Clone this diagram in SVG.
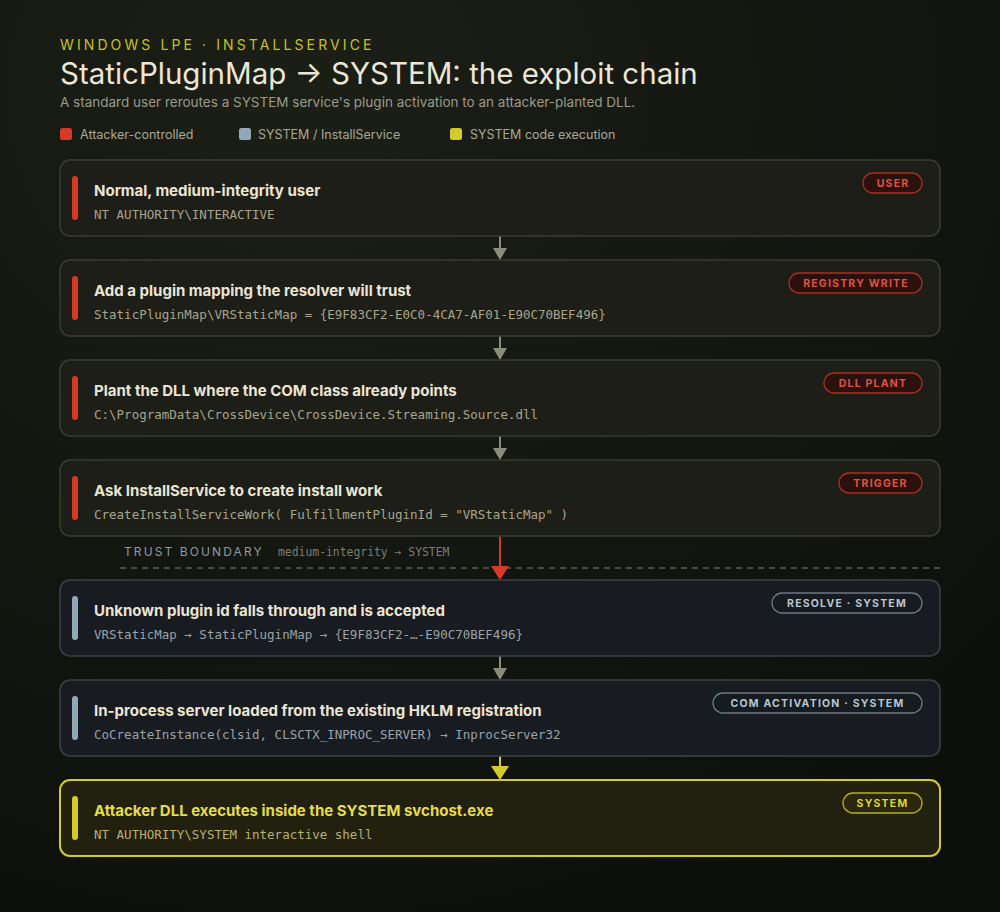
<svg xmlns="http://www.w3.org/2000/svg" width="1000" height="912" viewBox="0 0 1000 912">
<defs>
<radialGradient id="bg" cx="0.3" cy="0.1" r="1">
<stop offset="0" stop-color="#1b1f16"/>
<stop offset="1" stop-color="#0d0f0b"/>
</radialGradient>
<style>
.hdr{font-family:Inter,"Liberation Sans",sans-serif}
.node{stroke-width:1.5}
.u{fill:#1c1e17;stroke:#3a3d31}
.s{fill:#181b1f;stroke:#3b424a}
.x{fill:#22200f;stroke:#d3cb2a;stroke-width:2}
.t{font-family:Inter,"Liberation Sans",sans-serif;font-weight:700;font-size:15px;fill:#ece5d4}
.m{font-family:"DejaVu Sans Mono",monospace;font-size:12.5px;fill:#a9a58c}
.ms{fill:#9aa3aa}
.bdg{font-family:Inter,"Liberation Sans",sans-serif;font-weight:700;font-size:10.5px;letter-spacing:1.2px;text-anchor:middle}
.br{fill:#2b110d;stroke:#a8301f;stroke-width:1.3}
.brt{fill:#e0533c}
.bs{fill:#161b20;stroke:#6c7a85;stroke-width:1.3}
.bst{fill:#b8c6d0}
.by{fill:#2a270c;stroke:#b7ae24;stroke-width:1.3}
.byt{fill:#ddd43a}
.conn{stroke-width:2;fill:none}
</style>
</defs>
<rect width="1000" height="912" fill="url(#bg)"/>

<g id="header">
<text class="hdr" x="60" y="50" font-size="14" letter-spacing="3.1" fill="#c9c122">WINDOWS LPE · INSTALLSERVICE</text>
<text class="hdr" x="60" y="84" font-size="29.5" fill="#ece6d6">StaticPluginMap → SYSTEM: the exploit chain</text>
<text class="hdr" x="60" y="107" font-size="13.5" fill="#9b9a8a">A standard user reroutes a SYSTEM service's plugin activation to an attacker-planted DLL.</text>
</g>

<g id="legend" class="hdr" font-size="12.5" fill="#a8a898">
<rect x="60" y="128" width="12" height="12" rx="2.5" fill="#d63a27"/>
<text x="80" y="139">Attacker-controlled</text>
<rect x="239" y="128" width="12" height="12" rx="2.5" fill="#93a8b6"/>
<text x="258" y="139">SYSTEM / InstallService</text>
<rect x="450" y="128" width="12" height="12" rx="2.5" fill="#d3cb2a"/>
<text x="470" y="139">SYSTEM code execution</text>
</g>

<g id="trust-boundary">
<text x="124" y="556" font-family="Inter,'Liberation Sans',sans-serif" font-size="12" letter-spacing="2.1" fill="#8d9ba5">TRUST BOUNDARY</text>
<text x="278" y="556" font-family="'DejaVu Sans Mono',monospace" font-size="11.4" fill="#7b7c72">medium-integrity → SYSTEM</text>
<line x1="120" y1="568" x2="940" y2="568" stroke="#5a5d55" stroke-width="1.5" stroke-dasharray="6 5"/>
</g>

<g id="connectors">
<line class="conn" x1="500" y1="236" x2="500" y2="248" stroke="#8c8c7a"/>
<path d="M493,248 L507,248 L500,260 Z" fill="#8c8c7a"/>
<line class="conn" x1="500" y1="336" x2="500" y2="348" stroke="#8c8c7a"/>
<path d="M493,348 L507,348 L500,360 Z" fill="#8c8c7a"/>
<line class="conn" x1="500" y1="436" x2="500" y2="448" stroke="#8c8c7a"/>
<path d="M493,448 L507,448 L500,460 Z" fill="#8c8c7a"/>
<line class="conn" x1="500" y1="536" x2="500" y2="566" stroke="#d63a27"/>
<path d="M491,566 L509,566 L500,580 Z" fill="#d63a27"/>
<line class="conn" x1="500" y1="656" x2="500" y2="668" stroke="#8c8c7a"/>
<path d="M493,668 L507,668 L500,680 Z" fill="#8c8c7a"/>
<line class="conn" x1="500" y1="756" x2="500" y2="766" stroke="#d3cb2a"/>
<path d="M491,766 L509,766 L500,780 Z" fill="#d3cb2a"/>
</g>

<g id="n1">
<rect class="node u" x="60" y="160" width="880" height="76" rx="10"/>
<rect x="72" y="176" width="6" height="44" rx="3" fill="#d63a27"/>
<text class="t" x="94" y="196">Normal, medium-integrity user</text>
<text class="m" x="94" y="219">NT AUTHORITY\INTERACTIVE</text>
<rect class="br" x="863" y="173" width="59" height="20" rx="10"/>
<text class="bdg brt" x="893" y="187">USER</text>
</g>

<g id="n2">
<rect class="node u" x="60" y="260" width="880" height="76" rx="10"/>
<rect x="72" y="276" width="6" height="44" rx="3" fill="#d63a27"/>
<text class="t" x="94" y="296">Add a plugin mapping the resolver will trust</text>
<text class="m" x="94" y="319">StaticPluginMap\VRStaticMap = {E9F83CF2-E0C0-4CA7-AF01-E90C70BEF496}</text>
<rect class="br" x="789" y="273" width="133" height="20" rx="10"/>
<text class="bdg brt" x="856" y="287">REGISTRY WRITE</text>
</g>

<g id="n3">
<rect class="node u" x="60" y="360" width="880" height="76" rx="10"/>
<rect x="72" y="376" width="6" height="44" rx="3" fill="#d63a27"/>
<text class="t" x="94" y="396">Plant the DLL where the COM class already points</text>
<text class="m" x="94" y="419">C:\ProgramData\CrossDevice\CrossDevice.Streaming.Source.dll</text>
<rect class="br" x="824" y="373" width="98" height="20" rx="10"/>
<text class="bdg brt" x="873" y="387">DLL PLANT</text>
</g>

<g id="n4">
<rect class="node u" x="60" y="460" width="880" height="76" rx="10"/>
<rect x="72" y="476" width="6" height="44" rx="3" fill="#d63a27"/>
<text class="t" x="94" y="496">Ask InstallService to create install work</text>
<text class="m" x="94" y="519">CreateInstallServiceWork( FulfillmentPluginId = "VRStaticMap" )</text>
<rect class="br" x="839" y="473" width="83" height="20" rx="10"/>
<text class="bdg brt" x="880.5" y="487">TRIGGER</text>
</g>

<g id="n5">
<rect class="node s" x="60" y="580" width="880" height="76" rx="10"/>
<rect x="72" y="596" width="6" height="44" rx="3" fill="#93a8b6"/>
<text class="t" x="94" y="616">Unknown plugin id falls through and is accepted</text>
<text class="m ms" x="94" y="639">VRStaticMap → StaticPluginMap → {E9F83CF2-…-E90C70BEF496}</text>
<rect class="bs" x="772" y="593" width="150" height="20" rx="10"/>
<text class="bdg bst" x="847" y="607">RESOLVE · SYSTEM</text>
</g>

<g id="n6">
<rect class="node s" x="60" y="680" width="880" height="76" rx="10"/>
<rect x="72" y="696" width="6" height="44" rx="3" fill="#93a8b6"/>
<text class="t" x="94" y="716">In-process server loaded from the existing HKLM registration</text>
<text class="m ms" x="94" y="739">CoCreateInstance(clsid, CLSCTX_INPROC_SERVER) → InprocServer32</text>
<rect class="bs" x="713" y="693" width="209" height="20" rx="10"/>
<text class="bdg bst" x="817.5" y="707">COM ACTIVATION · SYSTEM</text>
</g>

<g id="n7">
<rect class="node x" x="60" y="780" width="880" height="76" rx="10"/>
<rect x="72" y="796" width="6" height="44" rx="3" fill="#d3cb2a"/>
<text class="t" x="94" y="816" style="fill:#e6dd4a">Attacker DLL executes inside the SYSTEM svchost.exe</text>
<text class="m" x="94" y="839" style="fill:#b8b070">NT AUTHORITY\SYSTEM interactive shell</text>
<rect class="by" x="843" y="793" width="79" height="20" rx="10"/>
<text class="bdg byt" x="882.5" y="807">SYSTEM</text>
</g>
</svg>
